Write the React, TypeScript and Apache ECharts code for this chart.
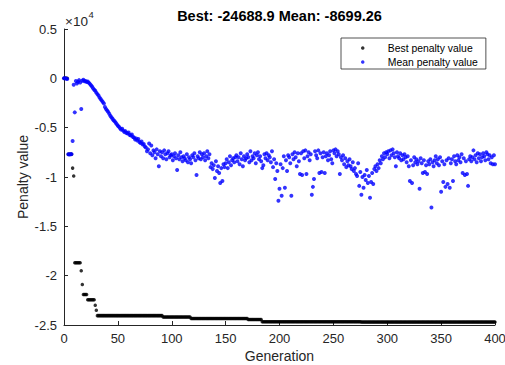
import React, { useEffect, useRef } from "react";
import * as echarts from "echarts";

const FONT = '"Liberation Sans", Arial, Helvetica, sans-serif';

const titleText = "Best: -24688.9 Mean: -8699.26";
const xTitle = "Generation";
const yTitle = "Penalty value";
const seriesNames = ["Best penalty value", "Mean penalty value"];

// Best penalty value is a step function: plateau start generations and values
const bestStartGen = [0, 4, 8, 9, 10, 16, 17, 18, 22, 29, 30, 31, 92, 118, 171, 184, 276];
const bestStepValue = [0, -7700, -9100, -9900, -18700, -19500, -20900, -21900, -22450, -23000, -23500, -24050, -24200, -24350, -24450, -24660, -24688.9];
const lastGen = 400;

// Mean penalty value for generations 0..400
const meanValues = [
  0, 0, -30, -60, -7700, -7720, -7700, -7680, -6350, -650,
  -3450, -280, -520, -350, -180, -420, -3100, -240, -150, -300,
  -260, -380, -320, -450, -560, -700, -820, -1000, -1150, -1250,
  -1450, -1600, -1750, -1950, -2100, -2250, -2400, -2550, -2900, -3100,
  -3250, -3400, -3600, -3800, -3950, -4100, -4250, -4350, -4500, -4650,
  -4800, -4900, -5050, -5200, -5100, -5300, -5450, -5350, -5550, -5600,
  -5500, -5750, -5800, -5700, -5950, -6000, -6200, -6100, -6300, -6150,
  -6450, -6550, -6400, -6700, -6650, -6900, -7000, -7400, -7200, -6600,
  -7600, -6800, -7800, -7300, -7500, -8100, -7200, -7700, -8900, -7400,
  -7900, -7500, -8100, -7300, -7700, -8200, -7600, -7400, -8000, -7800,
  -7700, -8300, -7900, -7600, -8100, -9300, -7800, -8200, -7500, -8000,
  -8400, -7900, -8100, -8300, -7700, -8500, -8000, -8200, -8600, -7800,
  -8000, -7600, -8300, -9800, -7900, -8100, -7500, -8200, -7700, -8000,
  -7600, -8300, -7900, -7400, -8100, -7700, -9000, -8600, -9200, -8800,
  -10100, -8400, -9400, -8900, -9600, -10600, -9100, -10400, -8700, -9000,
  -8600, -8200, -9100, -8500, -7900, -8800, -8300, -8100, -8500, -8000,
  -7800, -8400, -8000, -8700, -7600, -8200, -8900, -7900, -8300, -8100,
  -7700, -8000, -8500, -7400, -8300, -7900, -8100, -7600, -8600, -7800,
  -7500, -8200, -7900, -8400, -9100, -8800, -7700, -8100, -7600, -8300,
  -7800, -8000, -8500, -7400, -9000, -8200, -10200, -8600, -9400, -12400,
  -11200, -8700, -11900, -9100, -7900, -11100, -8300, -9400, -7800, -8000,
  -8600, -11900, -7700, -8200, -7500, -8000, -8900, -7600, -8400, -9700,
  -7600, -9800, -7400, -8100, -7300, -9700, -7900, -7500, -8300, -7700,
  -11800, -11000, -10200, -7400, -7800, -8100, -7300, -9600, -7600, -9500,
  -8000, -7500, -9600, -7900, -7600, -8300, -7800, -7400, -8200, -8600,
  -7300, -7600, -7200, -7900, -7400, -7700, -9700, -8000, -8300, -7800,
  -8700, -8100, -9000, -8400, -8800, -8200, -8900, -9200, -8500, -9400,
  -9100, -9700, -9900, -8600, -10900, -9500, -11800, -10000, -11100, -9800,
  -10300, -9300, -10600, -9900, -12100, -10500, -9600, -10700, -9200, -8900,
  -9400, -8700, -9100, -8300, -8600, -7900, -8200, -7600, -8000, -7500,
  -7700, -7400, -8100, -7300, -7800, -7200, -7600, -8000, -8900, -7500,
  -7900, -8100, -7600, -8300, -7800, -8200, -7700, -8000, -8500, -7900,
  -8900, -10400, -8300, -10600, -8800, -8000, -8500, -8200, -8700, -8400,
  -11200, -8100, -8600, -9600, -8300, -9500, -8800, -9700, -8400, -8700,
  -8200, -13100, -8500, -8900, -8300, -7900, -8600, -8200, -8800, -8000,
  -11500, -8400, -10500, -8700, -11000, -8300, -10700, -8100, -11100, -8600,
  -8200, -10400, -7900, -8400, -8700, -7800, -8300, -8000, -8500, -7700,
  -9600, -8100, -9800, -8400, -9700, -10900, -8200, -7900, -8400, -8000,
  -7300, -8200, -7800, -8500, -7600, -8100, -7700, -8400, -8000, -7600,
  -7900, -8300, -7500, -7700, -8200, -7800, -8600, -8000, -8700, -7800,
  -8699.26,
];

function buildBest(): number[][] {
  const pts: number[][] = [];
  for (let g = 0; g <= lastGen; g++) {
    let v = bestStepValue[0];
    for (let k = 0; k < bestStartGen.length; k++) {
      if (g >= bestStartGen[k]) v = bestStepValue[k];
    }
    pts.push([g, v]);
  }
  return pts;
}

export default function App() {
  const ref = useRef<HTMLDivElement>(null);
  useEffect(() => {
    if (!ref.current) return;
    const chart = echarts.init(ref.current, undefined, { renderer: "svg" });
    const bestData = buildBest();
    const meanData = meanValues.map((v, i) => [i, v]);
    const axisColor = "#262626";
    chart.setOption({
      animation: false,
      backgroundColor: "#ffffff",
      title: {
        text: titleText,
        left: 279.5,
        top: 8,
        textAlign: "center",
        padding: 0,
        textStyle: { fontFamily: FONT, fontSize: 14.5, fontWeight: "bold", color: "#000" },
      },
      legend: {
        orient: "vertical",
        left: 341,
        top: 38,
        padding: [4, 8, 1, 20],
        itemGap: 2,
        itemWidth: 40,
        itemHeight: 3.5,
        icon: "circle",
        backgroundColor: "#ffffff",
        borderColor: axisColor,
        borderWidth: 0.8,
        borderRadius: 0,
        selectedMode: false,
        textStyle: { fontFamily: FONT, fontSize: 10.4, color: "#000", lineHeight: 12 },
        data: seriesNames,
      },
      grid: { left: 64, right: 10, top: 29, bottom: 40, outerBoundsMode: "none", containLabel: false },
      xAxis: {
        type: "value",
        min: 0,
        max: 400,
        interval: 50,
        name: xTitle,
        nameLocation: "middle",
        nameGap: 24,
        nameMoveOverlap: false,
        nameTextStyle: { fontFamily: FONT, fontSize: 14, color: axisColor },
        axisLine: { show: true, onZero: false, lineStyle: { color: axisColor, width: 1 } },
        axisTick: { show: true, inside: true, length: 4, lineStyle: { color: axisColor } },
        axisLabel: { margin: 7, fontFamily: FONT, fontSize: 13, color: axisColor, showMinLabel: true, showMaxLabel: true },
        splitLine: { show: false },
      },
      yAxis: {
        type: "value",
        min: -25000,
        max: 5000,
        interval: 5000,
        name: yTitle,
        nameLocation: "middle",
        nameGap: 34,
        nameMoveOverlap: false,
        nameTextStyle: { fontFamily: FONT, fontSize: 14, color: axisColor },
        axisLine: { show: true, onZero: false, lineStyle: { color: axisColor, width: 1 } },
        axisTick: { show: true, inside: true, length: 4, lineStyle: { color: axisColor } },
        axisLabel: {
          margin: 7,
          fontFamily: FONT,
          fontSize: 13,
          color: axisColor,
          showMinLabel: true,
          showMaxLabel: true,
          formatter: (v: number) => String(v / 10000),
        },
        splitLine: { show: false },
      },
      graphic: [
        {
          type: "text",
          x: 65,
          y: 21,
          style: { text: "×10", fontFamily: FONT, fontSize: 13.5, fill: axisColor, verticalAlign: "middle" },
        },
        {
          type: "text",
          x: 88.5,
          y: 14.5,
          style: { text: "4", fontFamily: FONT, fontSize: 9.5, fill: axisColor, verticalAlign: "middle" },
        },
      ],
      series: [
        {
          type: "scatter",
          name: seriesNames[0],
          data: bestData,
          symbol: "circle",
          symbolSize: 3.5,
          itemStyle: { color: "#000000" },
        },
        {
          type: "scatter",
          name: seriesNames[1],
          data: meanData,
          symbol: "circle",
          symbolSize: 4,
          itemStyle: { color: "#0000ff" },
        },
      ],
    });
    return () => chart.dispose();
  }, []);
  return (
    <div
      ref={ref}
      style={{ position: "fixed", left: 0, top: 0, width: 505, height: 365 }}
    />
  );
}
